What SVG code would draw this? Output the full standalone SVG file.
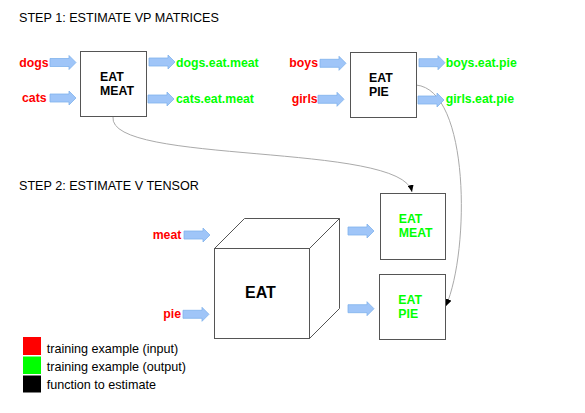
<svg xmlns="http://www.w3.org/2000/svg" xmlns:xlink="http://www.w3.org/1999/xlink" width="585" height="413" viewBox="0 0 585 413">
<style>
text{font-family:"Liberation Sans",Arial,sans-serif;font-size:12.3px}
.t{fill:#000;font-size:12.6px}
.b{font-weight:bold}
.r{fill:#ff0000;font-weight:bold}
.g{fill:#00ff00;font-weight:bold}
.box{fill:#fff;stroke:#555;stroke-width:1}
.arr{fill:#9fc5f8;stroke:#80b2ec;stroke-width:0.8}
.con{fill:none;stroke:#aaa;stroke-width:1}
</style>
<defs>
<path id="ba" class="arr" d="M0,-4 L19,-4 L19,-7 L26,0 L19,7 L19,4 L0,4 Z"/>
<marker id="ah" markerUnits="userSpaceOnUse" markerWidth="8" markerHeight="6" refX="7" refY="3" orient="auto">
<path d="M0,0 L7,3 L0,6 Z" fill="#000"/>
</marker>
</defs>
<rect width="585" height="413" fill="#fff"/>
<text x="19" y="22" class="t">STEP 1: ESTIMATE VP MATRICES</text>
<text x="19" y="190" class="t">STEP 2: ESTIMATE V TENSOR</text>

<g id="connectors">
<path class="con" d="M113,117 C108,165 402,142 412,192" marker-end="url(#ah)"/>
<path class="con" d="M416,85 C470,90 470,250 446,306" marker-end="url(#ah)"/>
</g>

<g id="eat-meat">
<rect class="box" x="80.5" y="51.5" width="66" height="65"/>
<text x="100" y="81" class="b">EAT</text>
<text x="100" y="95" class="b">MEAT</text>
</g>
<g id="eat-pie">
<rect class="box" x="350.5" y="52.5" width="66" height="65"/>
<text x="369" y="81.5" class="b">EAT</text>
<text x="369" y="95.5" class="b">PIE</text>
</g>

<g id="inputs1">
<text x="19.3" y="66.5" class="r">dogs</text>
<use xlink:href="#ba" x="50" y="62.5"/>
<text x="22" y="102" class="r">cats</text>
<use xlink:href="#ba" x="50" y="98"/>
<use xlink:href="#ba" x="149" y="62"/>
<text x="176" y="66.5" class="g">dogs.eat.meat</text>
<use xlink:href="#ba" x="148" y="99"/>
<text x="176" y="102.5" class="g">cats.eat.meat</text>
</g>
<g id="inputs2">
<text x="289.3" y="67" class="r">boys</text>
<use xlink:href="#ba" x="320" y="63.3"/>
<text x="291.7" y="102.5" class="r">girls</text>
<use xlink:href="#ba" x="318" y="99.3"/>
<use xlink:href="#ba" x="419" y="62.7"/>
<text x="445.7" y="66.5" class="g">boys.eat.pie</text>
<use xlink:href="#ba" x="418" y="100"/>
<text x="445.7" y="103" class="g">girls.eat.pie</text>
</g>

<g id="cube">
<polygon class="box" points="214.5,248.5 244.5,218.5 339.5,218.5 309.5,248.5"/>
<polygon class="box" points="309.5,248.5 339.5,218.5 339.5,308.5 309.5,338.5"/>
<rect class="box" x="214.5" y="248.5" width="95" height="90"/>
<text x="245" y="298" class="b" style="font-size:16px">EAT</text>
</g>
<g id="inputs3">
<text x="152.7" y="238.5" class="r">meat</text>
<use xlink:href="#ba" x="184" y="235"/>
<text x="163.3" y="318" class="r">pie</text>
<use xlink:href="#ba" x="183" y="314.3"/>
<use xlink:href="#ba" x="348" y="231"/>
<use xlink:href="#ba" x="348" y="308.7"/>
</g>
<g id="out-meat">
<rect class="box" x="380.5" y="193.5" width="65" height="66"/>
<text x="398.7" y="223.3" class="g">EAT</text>
<text x="398.7" y="237.3" class="g">MEAT</text>
</g>
<g id="out-pie">
<rect class="box" x="379.5" y="274.5" width="66" height="65"/>
<text x="398.3" y="304" class="g">EAT</text>
<text x="398.3" y="318" class="g">PIE</text>
</g>

<g id="legend">
<rect x="23" y="337" width="18" height="18" fill="#ff0000"/>
<rect x="23" y="356.5" width="18" height="17.5" fill="#00ff00"/>
<rect x="23" y="375.5" width="18" height="17" fill="#000"/>
<text x="46.7" y="353" class="t">training example (input)</text>
<text x="46.7" y="371" class="t">training example (output)</text>
<text x="46.7" y="389" class="t">function to estimate</text>
</g>
</svg>
